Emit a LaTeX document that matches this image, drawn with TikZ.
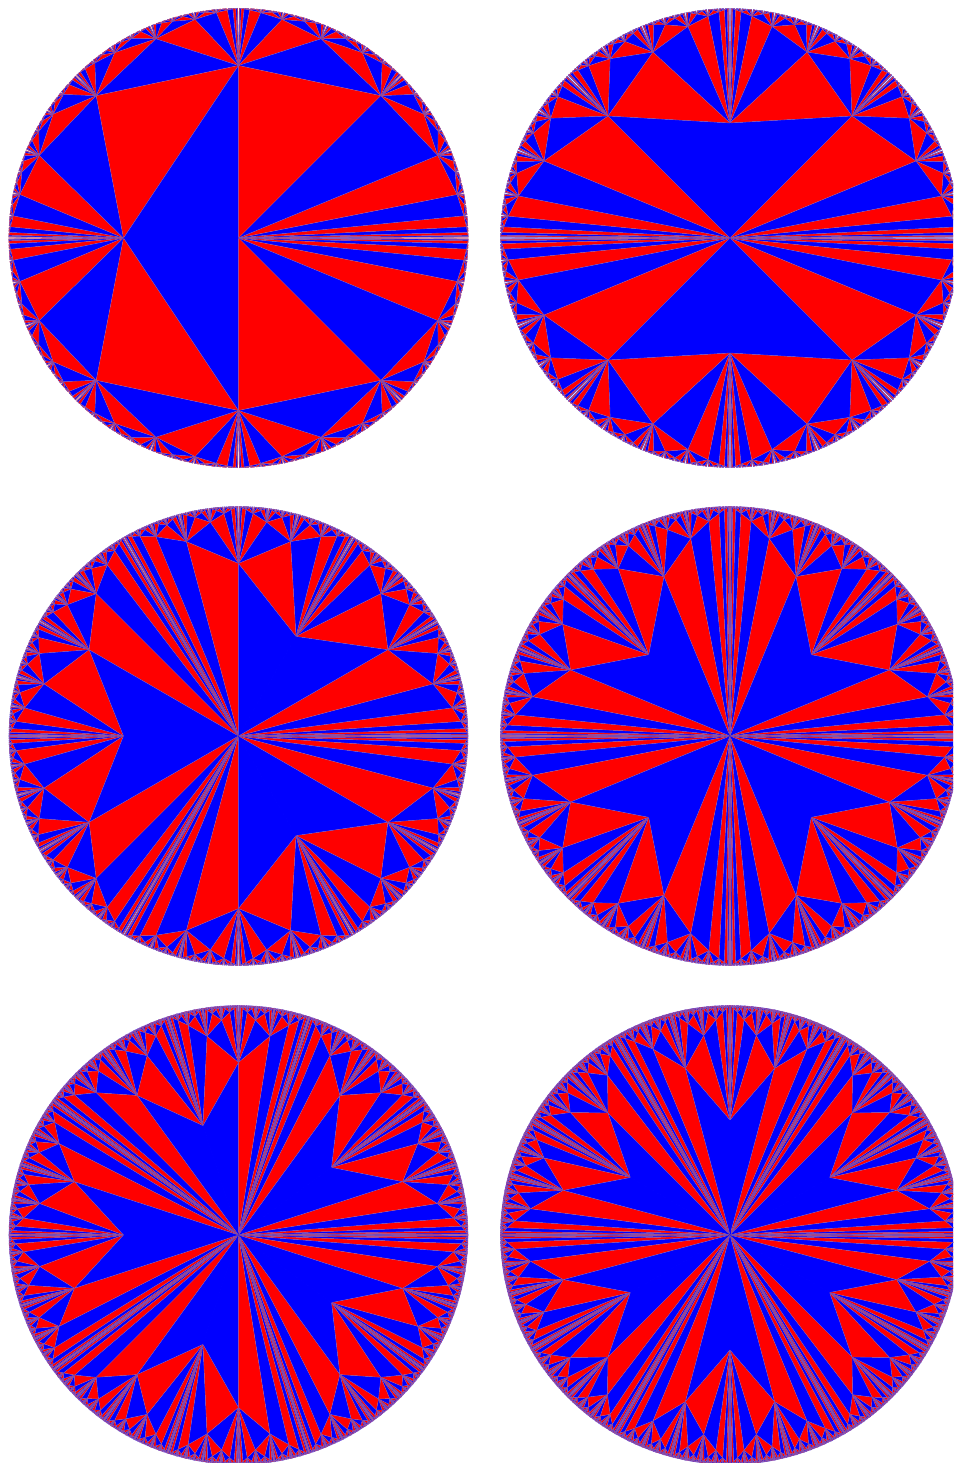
\documentclass[tikz,border=0pt]{standalone}
\makeatletter
\newcommand{\TriOut}[1]{\pgfsys@invoke{#1}}
\makeatother
\newcommand{\ColR}{1 0 0 rg}
\newcommand{\ColB}{0 0 1 rg}
% all coordinates below are integers, in units of 1/50 px, relative to the disc centre
\newcommand{\DiskSub}[8]{%
  % #1 angle a, #2,#3 point a, #4 angle b, #5,#6 point b, #7 level, #8 colour (0 red, 1 blue)
  \ifnum#7>\MaxLevel\relax\else
  \begingroup
    \pgfmathsetmacro\mang{(#1+#4)/2}%
    \pgfmathsetmacro\mrad{11500*(1-1/2^#7)}%
    \pgfmathtruncatemacro\mx{round(\mrad*cos(\mang))}%
    \pgfmathtruncatemacro\my{round(\mrad*sin(\mang))}%
    \pgfmathtruncatemacro\nextlevel{#7+1}%
    \pgfmathsetmacro\areaval{abs((#5/800-#2/800)*(\my/800-#3/800)-(#6/800-#3/800)*(\mx/800-#2/800))}%
    \pgfmathtruncatemacro\stopflag{(#7>2)&&(\areaval<0.0012)?1:0}%
    \pgfmathtruncatemacro\lineflag{(\areaval<0.006)?0:1}%
    \ifnum\stopflag=0\relax
      \ifnum#7=1\relax\def\nextcol{1}\else\pgfmathtruncatemacro\nextcol{1-#8}\fi
      \edef\DoNext{%
        \noexpand\DiskSub{#1}{#2}{#3}{\mang}{\mx}{\my}{\nextlevel}{\nextcol}%
        \noexpand\DiskSub{\mang}{\mx}{\my}{#4}{#5}{#6}{\nextlevel}{\nextcol}%
      }%
      \DoNext
    \fi
    \ifnum#7=2\relax
      \TriOut{0 0 1 RG 40 w #2 #3 m #5 #6 l S \EdgeCol}%
    \fi
    \ifnum#7>1\relax
      \TriOut{\ifnum#8=0 \ColR\else\ColB\fi\space #2 #3 m #5 #6 l \mx\space\my\space l h f}%
      \ifnum\lineflag=1\relax
        \TriOut{#2 #3 m \mx\space\my\space l #5 #6 l S}%
      \fi
    \fi
  \endgroup
  \fi}
\newcommand{\DiskAt}[4]{%
  % centre #1,#2; sectors #3; depth #4
  \TriOut{q 0.99626 0 0 0.99626 0 0 cm 1 0 0 1 #1 -#2 cm 0.02 0 0 0.02 0 0 cm \EdgeCol\space 1 j}%
  \def\MaxLevel{#4}%
  \pgfmathsetmacro\secstep{360/#3}%
  \foreach \k in {1,...,#3}{%
    \pgfmathsetmacro\aa{(\k-1)*\secstep}%
    \pgfmathsetmacro\bb{\k*\secstep}%
    \edef\DoSec{\noexpand\DiskSub{\aa}{0}{0}{\bb}{0}{0}{1}{0}}%
    \DoSec
  }%
  \TriOut{Q}}
\newcommand{\EdgeCol}{0.55 0.38 0.68 RG 16 w}
\begin{document}
\begin{tikzpicture}[x=1pt,y=1pt]
  \useasboundingbox (0,0) rectangle (953,-1463);
  \clip (0,0) rectangle (953,-1463);
  \DiskAt{238.5}{238}{1}{11}
  \DiskAt{730}{238}{2}{10}
  \DiskAt{238.5}{736}{3}{10}
  \DiskAt{730}{736}{4}{10}
  \DiskAt{238.5}{1235}{5}{10}
  \DiskAt{730}{1235}{6}{10}
\end{tikzpicture}
\end{document}
